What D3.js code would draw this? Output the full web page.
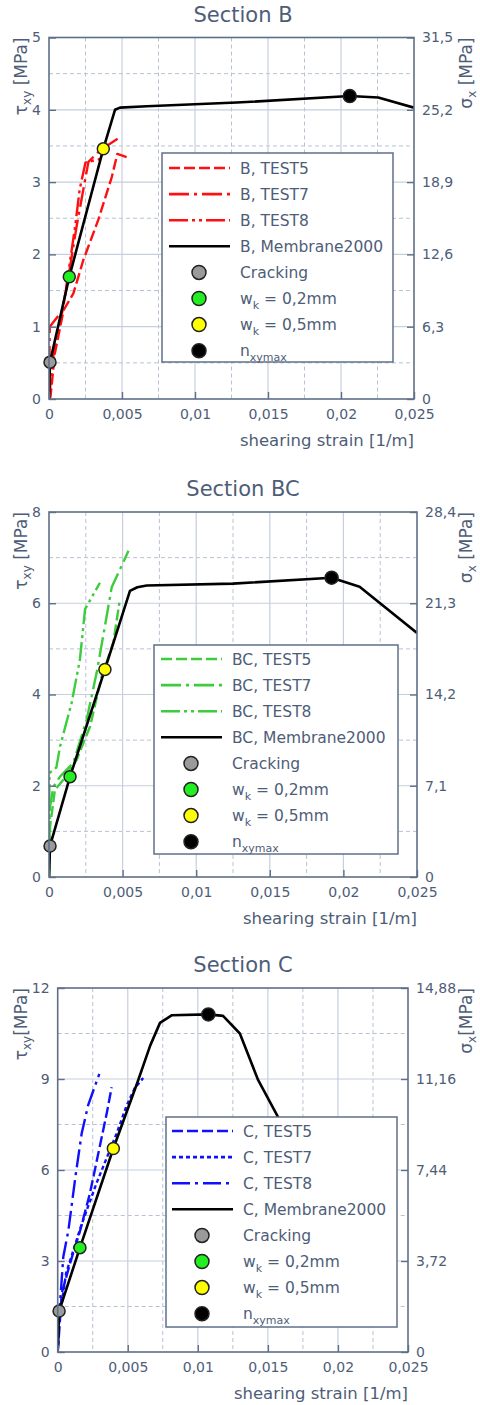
<!DOCTYPE html>
<html>
<head>
<meta charset="utf-8">
<script src="https://cdn.jsdelivr.net/npm/d3@7"></script>
<style>body{margin:0;background:#fff}</style>
</head>
<body>
<div id="chart"></div>
<script>
// shearing strain [1/m] vs shear stress tau_xy [MPa]
var xTicks = [0, 0.005, 0.01, 0.015, 0.02, 0.025];

// ---- Section B
var bLeftTicks = [0, 1, 2, 3, 4, 5];
var bRightTicks = [0, 6.3, 12.6, 18.9, 25.2, 31.5];
var bTest5 = [[0,0],[0.0001,0.03],[0.0004,0.63],[0.001,1.23],[0.00167,1.46],[0.00235,1.92],[0.00338,2.48],[0.0043,3.07],[0.00468,3.39],[0.00555,3.33]];
var bTest7 = [[0,0],[0.00005,1.0],[0.0009,1.22],[0.0013,1.65],[0.0019,2.4],[0.0024,2.95],[0.0027,3.28],[0.0034,3.42],[0.0041,3.52],[0.0047,3.6]];
var bTest8 = [[0,0],[0.0003,0.6],[0.001,1.3],[0.0014,1.85],[0.0018,2.4],[0.0021,2.9],[0.0025,3.27],[0.0031,3.3],[0.0035,3.32]];
var bMembrane = [[0,0],[0.00007,0.51],[0.00139,1.69],[0.00372,3.46],[0.00452,4.0],[0.00486,4.03],[0.0067,4.05],[0.01286,4.1],[0.0206,4.19],[0.02255,4.17],[0.025,4.03]];
var bPoints = [[0.00007,0.51],[0.00139,1.69],[0.00372,3.46],[0.0206,4.19]];

// ---- Section BC
var bcLeftTicks = [0, 2, 4, 6, 8];
var bcRightTicks = [0, 7.1, 14.2, 21.3, 28.4];
var bcTest5 = [[0,0],[0.00007,1.1],[0.0004,1.91],[0.00097,2.13],[0.00188,2.57],[0.00279,3.3],[0.00358,4.4],[0.00437,5.14],[0.00478,6.01]];
var bcTest7 = [[0,0],[0.00005,1.5],[0.0003,1.98],[0.00075,2.2],[0.00165,2.5],[0.00256,3.45],[0.00324,4.48],[0.0038,5.5],[0.00426,6.35],[0.0054,7.15]];
var bcTest8 = [[0,0],[0.00003,2.28],[0.0005,2.4],[0.00075,2.86],[0.00154,3.82],[0.0021,4.77],[0.00245,5.87],[0.00346,6.45]];
var bcMembrane = [[0,0],[0.00007,0.68],[0.00143,2.2],[0.0038,4.55],[0.0055,6.27],[0.006,6.35],[0.00664,6.39],[0.0125,6.43],[0.0192,6.56],[0.0211,6.36],[0.025,5.35]];
var bcPoints = [[0.00007,0.68],[0.00143,2.2],[0.0038,4.55],[0.0192,6.56]];

// ---- Section C
var cLeftTicks = [0, 3, 6, 9, 12];
var cRightTicks = [0, 3.72, 7.44, 11.16, 14.88];
var cTest5 = [[0,0],[0.0001,0.63],[0.00029,1.94],[0.00088,2.92],[0.0016,4.0],[0.0023,5.23],[0.0029,6.55],[0.0035,7.87],[0.00385,8.73]];
var cTest7 = [[0,0],[0.0001,1.0],[0.0006,2.6],[0.0017,4.2],[0.0028,5.6],[0.0042,7.2],[0.0049,8.1],[0.0055,8.7],[0.0061,9.03]];
var cTest8 = [[0,0],[0.0001,1.17],[0.0004,3.14],[0.00076,4.0],[0.0013,5.9],[0.00171,7.2],[0.00218,8.15],[0.00297,9.17]];
var cMembrane = [[0,0],[0.0001,1.35],[0.00159,3.44],[0.00397,6.71],[0.0057,8.9],[0.0066,10.1],[0.0073,10.85],[0.00813,11.1],[0.01075,11.13],[0.0118,11.08],[0.013,10.5],[0.0143,8.97],[0.0157,7.77],[0.0172,6.2]];
var cPoints = [[0.0001,1.35],[0.00159,3.44],[0.00397,6.71],[0.01075,11.13]];

var font = "'DejaVu Sans', sans-serif";
var textCol = "#4e5d77", axisCol = "#5f6f88";
var markerFill = ["#9a9a9a", "#22ee22", "#ffff00", "#000000"];

var locale = d3.formatLocale({decimal: ",", thousands: ".", grouping: [3], currency: ["", ""]});
var fmt = locale.format("~g");

var svg = d3.select("#chart").append("svg")
    .attr("width", 480).attr("height", 1405)
    .style("font-family", font);

var panels = [
  {name: "B", title: "Section B", yMax: 5, rightMax: 31.5, left: 49, right: 414, top: 37.5, bottom: 399,
   leftTicks: bLeftTicks, rightTicks: bRightTicks, color: "#ff1010",
   series: [bTest5, bTest7, bTest8, bMembrane], points: bPoints, space: " ",
   legend: {x0: 162, y0: 153, x1: 393, y1: 362, line0: 169, line1: 230, mx: 199, tx: 240, row0: 168}},
  {name: "BC", title: "Section BC", yMax: 8, rightMax: 28.4, left: 49, right: 417, top: 512, bottom: 877,
   leftTicks: bcLeftTicks, rightTicks: bcRightTicks, color: "#3ccc3c",
   series: [bcTest5, bcTest7, bcTest8, bcMembrane], points: bcPoints, space: " ",
   legend: {x0: 154, y0: 645, x1: 398, y1: 854, line0: 161, line1: 222, mx: 191, tx: 232, row0: 659}},
  {name: "C", title: "Section C", yMax: 12, rightMax: 14.88, left: 57.7, right: 408, top: 988, bottom: 1352,
   leftTicks: cLeftTicks, rightTicks: cRightTicks, color: "#1010ff",
   series: [cTest5, cTest7, cTest8, cMembrane], points: cPoints, space: "",
   legend: {x0: 166, y0: 1117, x1: 397, y1: 1327, line0: 172, line1: 233, mx: 202, tx: 243, row0: 1131}}
];

panels.forEach(function(p, pi) {
  var dashes = pi == 2
    ? ["11,4", "4,3", "18,5,3,5", null]
    : ["11,4", "20,5,3,5", "19,4,3,4,3,4", null];

  var x = d3.scaleLinear().domain([0, 0.025]).range([p.left, p.right]);
  var y = d3.scaleLinear().domain([0, p.yMax]).range([p.bottom, p.top]);
  var yR = d3.scaleLinear().domain([0, p.rightMax]).range([p.bottom, p.top]);
  var g = svg.append("g");

  // minor (dashed) grid
  var ystep = p.leftTicks[1] - p.leftTicks[0];
  var xMinor = xTicks.slice(0, -1).map(function(t){ return t + 0.0025; });
  var yMinor = p.leftTicks.slice(0, -1).map(function(t){ return t + ystep / 2; });
  g.selectAll(".vmin").data(xMinor).enter().append("line")
    .attr("x1", d => x(d)).attr("x2", d => x(d)).attr("y1", p.top).attr("y2", p.bottom)
    .attr("stroke", "#b8c2d4").attr("stroke-width", 1).attr("stroke-dasharray", "4,3");
  g.selectAll(".hmin").data(yMinor).enter().append("line")
    .attr("y1", d => y(d)).attr("y2", d => y(d)).attr("x1", p.left).attr("x2", p.right)
    .attr("stroke", "#b8c2d4").attr("stroke-width", 1).attr("stroke-dasharray", "4,3");
  // major grid
  g.selectAll(".vmaj").data(xTicks.slice(1, -1)).enter().append("line")
    .attr("x1", d => x(d)).attr("x2", d => x(d)).attr("y1", p.top).attr("y2", p.bottom)
    .attr("stroke", "#c6cfdf").attr("stroke-width", 1.2);
  g.selectAll(".hmaj").data(p.leftTicks.slice(1, -1)).enter().append("line")
    .attr("y1", d => y(d)).attr("y2", d => y(d)).attr("x1", p.left).attr("x2", p.right)
    .attr("stroke", "#c6cfdf").attr("stroke-width", 1.2);

  // curves
  var clipId = "clip" + pi;
  svg.append("clipPath").attr("id", clipId).append("rect")
    .attr("x", p.left).attr("y", p.top).attr("width", p.right - p.left).attr("height", p.bottom - p.top);
  var line = d3.line().x(d => x(d[0])).y(d => y(d[1]));
  p.series.forEach(function(s, i) {
    g.append("path").datum(s)
      .attr("clip-path", "url(#" + clipId + ")")
      .attr("d", line)
      .attr("fill", "none")
      .attr("stroke", i == 3 ? "#000" : p.color)
      .attr("stroke-width", i == 3 ? 2.6 : 2.4)
      .attr("stroke-linejoin", "round")
      .attr("stroke-dasharray", dashes[i]);
  });
  g.selectAll(".pt").data(p.points).enter().append("circle")
    .attr("cx", d => x(d[0])).attr("cy", d => y(d[1]))
    .attr("r", (d, i) => i == 3 ? 6.5 : 6)
    .attr("fill", (d, i) => markerFill[i])
    .attr("stroke", "#222").attr("stroke-width", 1.5);

  // frame + axes
  g.append("rect").attr("x", p.left).attr("y", p.top)
    .attr("width", p.right - p.left).attr("height", p.bottom - p.top)
    .attr("fill", "none").attr("stroke", axisCol).attr("stroke-width", 1.6);

  function styleAxis(sel) {
    sel.select(".domain").remove();
    sel.selectAll(".tick line").attr("stroke", axisCol).attr("stroke-width", 1.4);
    sel.selectAll(".tick text").attr("fill", textCol).style("font-size", "14px").style("font-family", font);
  }
  g.append("g").attr("transform", "translate(" + p.left + ",0)")
    .call(d3.axisLeft(y).tickValues(p.leftTicks).tickSize(-7).tickPadding(8).tickFormat(fmt))
    .call(styleAxis);
  g.append("g").attr("transform", "translate(" + p.right + ",0)")
    .call(d3.axisRight(yR).tickValues(p.rightTicks).tickSize(-7).tickPadding(8).tickFormat(fmt))
    .call(styleAxis);
  g.append("g").attr("transform", "translate(0," + p.bottom + ")")
    .call(d3.axisBottom(x).tickValues(xTicks).tickSize(-7).tickPadding(10).tickFormat(fmt))
    .call(styleAxis);

  // titles
  g.append("text").attr("x", 243).attr("y", p.top - 16)
    .attr("text-anchor", "middle").attr("fill", textCol)
    .style("font-size", "21px").text(p.title);
  g.append("text").attr("x", p.right).attr("y", p.bottom + 47)
    .attr("text-anchor", "end").attr("fill", textCol)
    .style("font-size", "16.5px").text("shearing strain [1/m]");

  var yl = g.append("text").attr("transform", "translate(27," + p.top + ") rotate(-90)")
    .attr("text-anchor", "end").attr("fill", textCol).style("font-size", "17px");
  yl.append("tspan").text("τ");
  yl.append("tspan").attr("dy", 4).style("font-size", "12px").text("xy");
  yl.append("tspan").attr("dy", -4).text(p.space + "[MPa]");

  var yr = g.append("text").attr("transform", "translate(472," + p.top + ") rotate(-90)")
    .attr("text-anchor", "end").attr("fill", textCol).style("font-size", "17px");
  yr.append("tspan").text("σ");
  yr.append("tspan").attr("dy", 4).style("font-size", "12px").text("x");
  yr.append("tspan").attr("dy", -4).text(p.space + "[MPa]");

  // legend
  var L = p.legend, rowH = 26.1;
  var lg = g.append("g");
  lg.append("rect").attr("x", L.x0).attr("y", L.y0)
    .attr("width", L.x1 - L.x0).attr("height", L.y1 - L.y0)
    .attr("fill", "#fff").attr("stroke", axisCol).attr("stroke-width", 1.5);
  var names = ["TEST5", "TEST7", "TEST8", "Membrane2000"];
  names.forEach(function(n, i) {
    var ry = L.row0 + i * rowH;
    lg.append("line").attr("x1", L.line0).attr("x2", L.line1).attr("y1", ry).attr("y2", ry)
      .attr("stroke", i == 3 ? "#000" : p.color).attr("stroke-width", 2.6)
      .attr("stroke-dasharray", dashes[i]);
    lg.append("text").attr("x", L.tx).attr("y", ry).attr("dy", "0.36em")
      .attr("fill", textCol).style("font-size", "15.5px").text(p.name + ", " + n);
  });
  var mLabels = [["Cracking"], ["w", "k", " = 0,2mm"], ["w", "k", " = 0,5mm"], ["n", "xymax", ""]];
  mLabels.forEach(function(lab, j) {
    var ry = L.row0 + (j + 4) * rowH;
    lg.append("circle").attr("cx", L.mx).attr("cy", ry).attr("r", 7)
      .attr("fill", markerFill[j]).attr("stroke", "#222").attr("stroke-width", 1.5);
    var t = lg.append("text").attr("x", L.tx).attr("y", ry).attr("dy", "0.36em")
      .attr("fill", textCol).style("font-size", "15.5px");
    t.append("tspan").text(lab[0]);
    if (lab.length > 1) {
      t.append("tspan").attr("dy", 5).style("font-size", "11px").text(lab[1]);
      t.append("tspan").attr("dy", -5).text(lab[2]);
    }
  });
});
</script>
</body>
</html>
